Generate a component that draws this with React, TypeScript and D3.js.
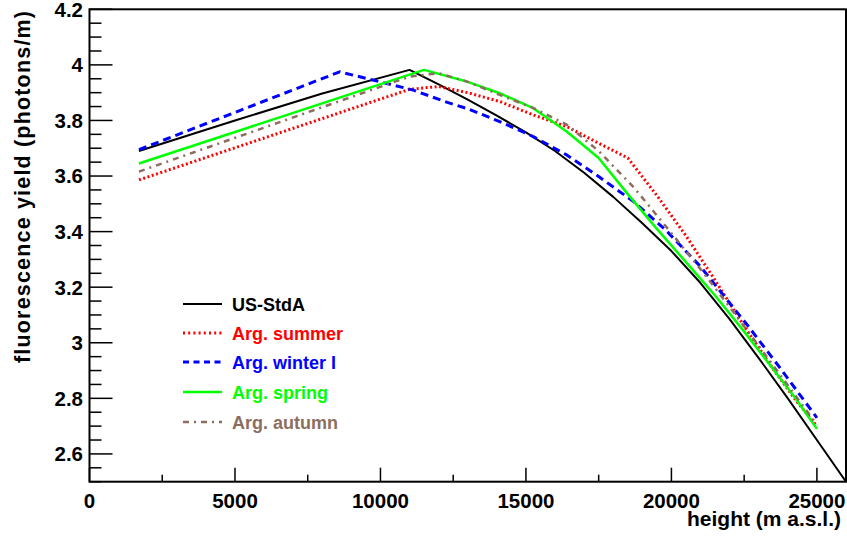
import React from "react";
import * as d3 from "d3";

const W = 847;
const H = 540;

const xTicksMajor = [0, 5000, 10000, 15000, 20000, 25000];
const yTicksMajor = [2.6, 2.8, 3, 3.2, 3.4, 3.6, 3.8, 4, 4.2];

const stdHeights = [1700, 5000, 8000, 11000, 12000, 13000, 14000, 15000, 16000, 17000, 18000, 19000, 20000, 21000, 22000, 23000, 24000, 25000, 26000];
const stdValues = [3.69, 3.8, 3.897, 3.982, 3.93, 3.875, 3.817, 3.757, 3.69, 3.612, 3.525, 3.43, 3.33, 3.215, 3.085, 2.945, 2.8, 2.65, 2.5];

const summerHeights = [1700, 11000, 12000, 13000, 14100, 15250, 16400, 17500, 18500, 19500, 20500, 21500, 22500, 23500, 24300, 25000];
const summerValues = [3.586, 3.912, 3.922, 3.9, 3.868, 3.82, 3.778, 3.718, 3.665, 3.53, 3.385, 3.225, 3.06, 2.905, 2.79, 2.7];

const winterHeights = [1700, 8600, 11100, 12300, 13000, 14100, 15250, 16400, 17500, 18700, 19800, 21000, 22100, 22600, 23700, 25000];
const winterValues = [3.695, 3.975, 3.91, 3.865, 3.842, 3.796, 3.742, 3.676, 3.598, 3.508, 3.406, 3.274, 3.13, 3.065, 2.914, 2.73];

const springHeights = [1700, 11500, 13000, 14100, 15250, 16400, 17500, 18500, 19500, 20500, 21500, 22500, 23500, 24300, 25000];
const springValues = [3.645, 3.982, 3.939, 3.898, 3.844, 3.76, 3.665, 3.535, 3.41, 3.29, 3.17, 3.04, 2.905, 2.795, 2.69];

const autumnHeights = [1700, 11000, 12000, 13000, 14100, 15250, 16400, 17500, 18700, 19800, 21000, 22100, 23700, 25000];
const autumnValues = [3.616, 3.958, 3.97, 3.939, 3.892, 3.845, 3.785, 3.69, 3.56, 3.42, 3.265, 3.115, 2.89, 2.705];

const seriesNames = ["US-StdA", "Arg. summer", "Arg. winter I", "Arg. spring", "Arg. autumn"];

type Style = { color: string; width: number; dash: string | null; legendDash: string | null };
const styles: Style[] = [
  { color: "#000000", width: 2, dash: null, legendDash: null },
  { color: "#ff0000", width: 3, dash: "2 2.5", legendDash: "2 3.2" },
  { color: "#0000ff", width: 3, dash: "8 5", legendDash: "6 4.5" },
  { color: "#00ff00", width: 2.5, dash: null, legendDash: null },
  { color: "#8c6e5f", width: 2.5, dash: "6 5 2 5", legendDash: "6 5 2 5" },
];

const seriesData: [number[], number[]][] = [
  [stdHeights, stdValues],
  [summerHeights, summerValues],
  [winterHeights, winterValues],
  [springHeights, springValues],
  [autumnHeights, autumnValues],
];

const L = 89.5, R = 846, T = 9.3, B = 481.7;
const FONT = "'Liberation Sans', Arial, Helvetica, sans-serif";

export default function App() {
  const x = d3.scaleLinear().domain([0, 26000]).range([L, R]);
  const y = d3.scaleLinear().domain([2.5, 4.2]).range([B, T]);

  const line = d3
    .line<[number, number]>()
    .x((d) => x(d[0]))
    .y((d) => y(d[1]));

  const xMinor = d3.range(0, 26001, 2500).filter((v) => !xTicksMajor.includes(v));
  const yMinor = d3
    .range(0, 35)
    .map((i) => +(2.5 + i * 0.05).toFixed(2))
    .filter((v) => v <= 4.2 && !yTicksMajor.some((m) => Math.abs(m - v) < 1e-6));

  const legendY = [304, 333, 362, 392, 422];

  return (
    <svg width={W} height={H} style={{ position: "absolute", left: 0, top: 0, background: "#fff" }} fontFamily={FONT}>
      <defs>
        <clipPath id="plotclip">
          <rect x={L} y={T} width={R - L} height={B - T} />
        </clipPath>
      </defs>
      <rect x={0} y={0} width={W} height={H} fill="#fff" />
      <g clipPath="url(#plotclip)">
        {seriesData.map(([hs, vs], i) => {
          const pts = hs.map((h, k) => [h, vs[k]] as [number, number]);
          const s = styles[i];
          return (
            <path
              key={i}
              d={line(pts) || ""}
              fill="none"
              stroke={s.color}
              strokeWidth={s.width}
              strokeDasharray={s.dash || undefined}
              strokeLinejoin="round"
            />
          );
        })}
      </g>
      <rect x={L} y={T} width={R - L} height={B - T} fill="none" stroke="#000" strokeWidth={2} />
      {xTicksMajor.map((v) => (
        <g key={"xm" + v}>
          <line x1={x(v)} x2={x(v)} y1={B} y2={B - 14} stroke="#000" strokeWidth={1.5} />
          <text x={x(v)} y={508} textAnchor="middle" fontSize={20.5} fontWeight="bold">
            {v}
          </text>
        </g>
      ))}
      {xMinor.map((v) => (
        <line key={"xn" + v} x1={x(v)} x2={x(v)} y1={B} y2={B - 7} stroke="#000" strokeWidth={1.5} />
      ))}
      {yTicksMajor.map((v) => (
        <g key={"ym" + v}>
          <line x1={L} x2={L + 23} y1={y(v)} y2={y(v)} stroke="#000" strokeWidth={1.5} />
          <text x={83} y={y(v) + 7.4} textAnchor="end" fontSize={20.5} fontWeight="bold">
            {d3.format("~g")(v)}
          </text>
        </g>
      ))}
      {yMinor.map((v) => (
        <line key={"yn" + v} x1={L} x2={L + 12} y1={y(v)} y2={y(v)} stroke="#000" strokeWidth={1.5} />
      ))}
      <text x={841} y={526} textAnchor="end" fontSize={21} fontWeight="bold">
        height (m a.s.l.)
      </text>
      <text
        transform="translate(30,11) rotate(-90)"
        textAnchor="end"
        fontSize={21.5}
        fontWeight="bold"
        textLength={352}
        lengthAdjust="spacing"
      >
        fluorescence yield (photons/m)
      </text>
      {seriesNames.map((name, i) => {
        const s = styles[i];
        const ly = legendY[i];
        return (
          <g key={name}>
            <line x1={183} x2={222} y1={ly} y2={ly} stroke={s.color} strokeWidth={s.width} strokeDasharray={s.legendDash || undefined} />
            <text x={232} y={ly + 6.5} fontSize={18} fontWeight="bold" fill={s.color}>
              {name}
            </text>
          </g>
        );
      })}
    </svg>
  );
}
